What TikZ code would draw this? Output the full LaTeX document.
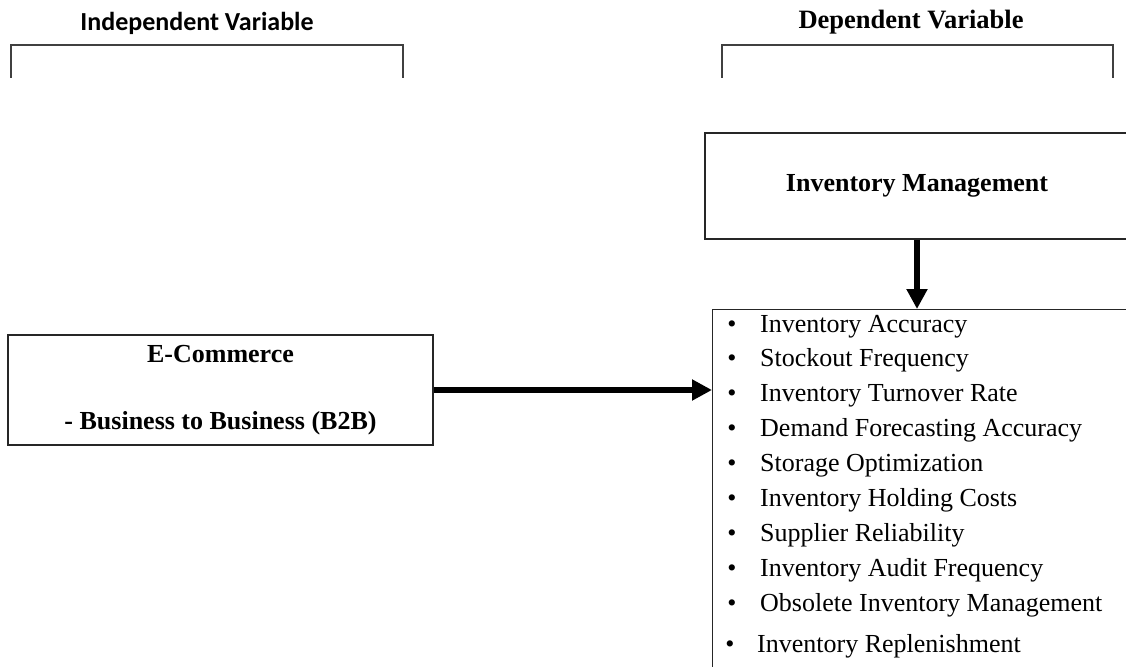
\documentclass[tikz,border=0pt]{standalone}
\usepackage{fontspec}
\setmainfont{Liberation Serif}
\newfontfamily\calibrifont{Carlito}
\usetikzlibrary{arrows.meta,positioning}

\begin{document}
\begin{tikzpicture}[x=1pt,y=-1pt,>={Triangle[length=20pt,width=20pt]}]
        \tikzstyle{box}=[draw=black!85,line width=1.2pt,inner sep=0pt]
        \tikzstyle{bracket}=[draw=black!75,line width=1.6pt]
        \tikzstyle{heading}=[font=\fontsize{26}{31}\selectfont\bfseries,inner sep=0pt]
        \tikzstyle{item}=[font=\fontsize{26}{31}\selectfont,anchor=base west,inner sep=0pt]
        \tikzstyle{bigarrow}=[->,line width=6.5pt]
        \useasboundingbox (0,0) rectangle (1126,666);

        % Headings
        \node (indep)[heading,font=\calibrifont\fontsize{26}{31}\selectfont\bfseries] at (197,23) {Independent Variable};
        \node (dep)[heading,font=\fontsize{26.5}{31}\selectfont\bfseries] at (911,22) {Dependent Variable};

        % Brackets under the headings
        \coordinate (indepL) at (11,78);
        \coordinate (indepR) at (403,78);
        \coordinate (depL) at (722,78);
        \coordinate (depR) at (1113,78);
        \draw[bracket] (indepL) -- ++(0,-33) -| (indepR);
        \draw[bracket] (depL) -- ++(0,-33) -| (depR);

        % Boxes
        \node (invmgmt)[box,heading,minimum width=424pt,minimum height=106pt] at (917,186) {Inventory Management};
        \node (ecom)[box,heading,minimum width=425pt,minimum height=110pt,align=center] at (220.5,390) {E-Commerce\\[36pt]- Business to Business (B2B)};
        \node (list)[box,minimum width=430pt,minimum height=380pt,anchor=north west] at (712,309) {};

        % Indicators
        \foreach \txt [count=\i from 0] in {Inventory Accuracy,Stockout Frequency,Inventory Turnover Rate,Demand Forecasting Accuracy,Storage Optimization,Inventory Holding Costs,Supplier Reliability,Inventory Audit Frequency,Obsolete Inventory Management}
        {
            \node (bullet\i)[item,anchor=base] at (732,{332+34.9*\i}) {\textbullet};
            \node (item\i)[item] at (760,{332+34.9*\i}) {\txt};
        }
        \node (bullet9)[item,anchor=base] at (730,652) {\textbullet};
        \node (item9)[item] at (757,652) {Inventory Replenishment};

        % Arrows
        \draw[bigarrow] (invmgmt.south) -- (invmgmt.south |- list.north);
        \draw[bigarrow] (ecom.east) -- (ecom.east -| list.west);
    \end{tikzpicture}
\end{document}
